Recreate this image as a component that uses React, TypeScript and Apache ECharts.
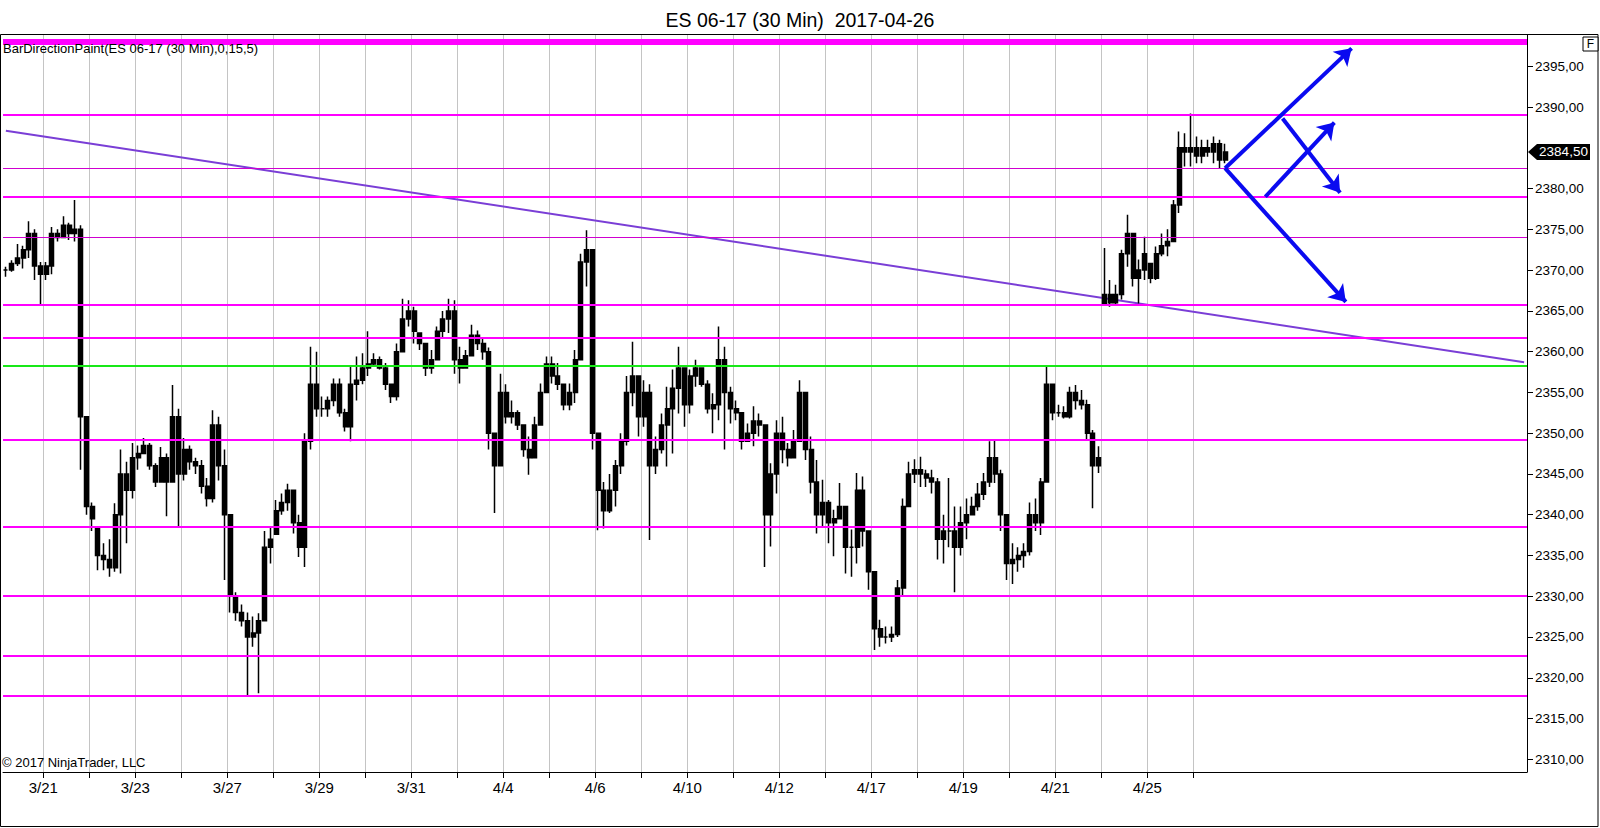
import React, { useEffect, useRef } from 'react';
import * as echarts from 'echarts';

// ---- session days (each day start gets a vertical grid line / tick) ----
const sessionDays = ['3/21', '3/22', '3/23', '3/24', '3/27', '3/28', '3/29', '3/30', '3/31', '4/3', '4/4', '4/5', '4/6', '4/7', '4/10', '4/11', '4/12', '4/13', '4/17', '4/18', '4/19', '4/20', '4/21', '4/24', '4/25', '4/26'];
const leadSlots = 7; // bars of the 3/20 session before the 3/21 gridline
const slotsPerDay = 8;
const totalSlots = 265; // includes empty space to the right

// ---- price bars (low / high / close) ----
const lows = [
  2369.2, 2369.8, 2370.5, 2370.2, 2371.5, 2368.8, 2365.7, 2368.8, 2369.5, 2373.5,
  2374.0, 2373.7, 2373.5, 2345.5, 2340.0, 2338.0, 2333.2, 2333.2, 2332.4, 2333.0,
  2332.8, 2336.5, 2342.0, 2345.5, 2347.5, 2345.5, 2343.4, 2344.0, 2339.8, 2344.0,
  2338.5, 2344.2, 2345.5, 2345.0, 2342.6, 2341.0, 2341.5, 2344.2, 2332.0, 2328.0,
  2327.0, 2326.3, 2317.9, 2323.8, 2318.1, 2327.0, 2334.0, 2337.6, 2340.0, 2340.5,
  2337.7, 2334.8, 2333.6, 2348.0, 2352.0, 2352.0, 2352.0, 2353.3, 2352.0, 2350.2,
  2349.0, 2354.0, 2356.0, 2357.0, 2358.2, 2357.8, 2355.3, 2353.7, 2354.0, 2360.0,
  2363.1, 2361.0, 2360.2, 2357.0, 2357.3, 2359.0, 2361.8, 2362.3, 2357.3, 2356.1,
  2358.0, 2359.4, 2360.2, 2359.0, 2348.0, 2340.2, 2345.9, 2351.2, 2351.2, 2350.4,
  2347.1, 2344.9, 2347.0, 2351.0, 2355.0, 2356.1, 2355.3, 2352.8, 2352.8, 2353.7,
  2359.0, 2368.0, 2348.0, 2338.1, 2338.3, 2340.2, 2341.0, 2345.0, 2348.5, 2353.3,
  2349.6, 2350.8, 2336.9, 2345.0, 2347.5, 2345.9, 2347.5, 2352.4, 2350.8, 2352.4,
  2355.7, 2355.7, 2352.4, 2350.0, 2351.6, 2348.0, 2351.2, 2351.6, 2348.0, 2349.0,
  2348.4, 2349.6, 2333.6, 2336.1, 2342.6, 2346.3, 2345.9, 2347.0, 2349.0, 2346.7,
  2342.6, 2337.7, 2338.5, 2336.5, 2334.9, 2339.5, 2332.8, 2332.4, 2334.0, 2336.1,
  2330.8, 2323.4, 2323.8, 2324.2, 2324.4, 2325.0, 2330.0, 2341.0, 2343.9, 2343.4,
  2343.4, 2342.6, 2334.5, 2334.0, 2336.0, 2330.5, 2335.0, 2337.0, 2340.0, 2340.5,
  2341.8, 2343.4, 2343.9, 2338.0, 2332.0, 2331.5, 2333.0, 2333.5, 2335.0, 2338.0,
  2337.5, 2344.0, 2351.6, 2352.0, 2351.8, 2351.8, 2352.9, 2352.9, 2349.2, 2340.8,
  2345.1, 2365.7, 2365.5, 2365.7, 2366.4, 2370.4, 2368.0, 2365.9, 2368.8, 2368.4,
  2368.8, 2371.7, 2371.7, 2373.5, 2377.0, 2382.7, 2382.7, 2383.1, 2383.1, 2383.9,
  2383.1, 2382.5, 2383.1,
];
const highs = [
  2370.4, 2371.2, 2373.2, 2373.0, 2376.0, 2375.0, 2371.0, 2371.0, 2375.3, 2375.0,
  2376.6, 2375.8, 2378.6, 2375.5, 2352.0, 2341.5, 2338.5, 2336.5, 2337.0, 2341.4,
  2348.0, 2346.5, 2348.8, 2348.5, 2349.4, 2348.8, 2346.3, 2348.3, 2347.5, 2355.9,
  2353.0, 2349.4, 2348.5, 2347.0, 2346.7, 2344.5, 2352.8, 2352.0, 2348.0, 2340.0,
  2330.5, 2329.0, 2328.0, 2327.5, 2327.9, 2338.0, 2338.5, 2341.8, 2342.6, 2343.8,
  2343.0, 2340.0, 2350.0, 2360.6, 2360.0, 2354.5, 2354.5, 2356.7, 2356.7, 2353.0,
  2358.2, 2359.4, 2359.8, 2362.5, 2359.8, 2359.4, 2358.6, 2356.1, 2361.0, 2366.5,
  2366.3, 2365.5, 2362.3, 2361.0, 2360.2, 2363.1, 2365.0, 2366.5, 2366.3, 2360.6,
  2360.2, 2363.3, 2362.6, 2361.6, 2360.5, 2350.0, 2357.3, 2356.0, 2354.0, 2352.8,
  2351.0, 2349.6, 2352.0, 2356.1, 2359.4, 2359.4, 2358.6, 2356.1, 2356.1, 2360.2,
  2372.0, 2374.9, 2372.5, 2350.0, 2344.0, 2345.0, 2346.7, 2350.0, 2357.0, 2361.2,
  2357.0, 2356.5, 2356.0, 2349.6, 2352.4, 2355.7, 2357.8, 2360.6, 2358.0, 2357.8,
  2359.0, 2358.0, 2356.5, 2354.9, 2363.1, 2360.6, 2355.7, 2354.0, 2352.5, 2351.2,
  2353.3, 2352.4, 2351.0, 2346.3, 2351.6, 2352.0, 2348.8, 2350.4, 2356.5, 2355.0,
  2349.6, 2346.7, 2344.3, 2341.8, 2340.6, 2343.9, 2341.0, 2338.2, 2345.1, 2344.7,
  2338.0, 2333.0, 2327.1, 2326.3, 2326.3, 2332.0, 2342.0, 2346.5, 2346.8, 2347.1,
  2345.5, 2345.5, 2344.5, 2340.0, 2344.5, 2341.0, 2341.0, 2342.0, 2342.2, 2343.9,
  2345.1, 2349.0, 2349.2, 2345.5, 2340.0, 2336.5, 2336.0, 2336.5, 2341.5, 2342.0,
  2344.5, 2358.2, 2356.1, 2353.5, 2353.3, 2355.7, 2355.9, 2355.3, 2354.1, 2350.4,
  2348.4, 2372.7, 2368.8, 2368.2, 2372.5, 2376.8, 2374.5, 2371.3, 2374.1, 2370.8,
  2372.9, 2374.5, 2375.0, 2378.6, 2387.0, 2386.8, 2389.2, 2386.4, 2386.0, 2386.0,
  2386.4, 2386.0, 2385.5,
];
const closes = [
  2370.0, 2370.8, 2371.5, 2372.5, 2374.5, 2370.5, 2369.5, 2370.5, 2374.5, 2374.0,
  2375.5, 2374.5, 2375.0, 2352.0, 2341.0, 2339.5, 2335.0, 2334.5, 2333.5, 2340.0,
  2345.0, 2343.0, 2347.0, 2347.5, 2348.5, 2346.0, 2344.0, 2347.0, 2344.0, 2352.0,
  2345.0, 2348.0, 2346.5, 2346.0, 2343.5, 2342.0, 2351.0, 2346.0, 2340.0, 2330.0,
  2328.0, 2327.0, 2325.0, 2325.5, 2327.0, 2336.0, 2337.0, 2340.5, 2341.5, 2343.0,
  2339.0, 2336.0, 2349.0, 2356.0, 2353.0, 2353.0, 2354.0, 2356.0, 2352.5, 2350.8,
  2356.0, 2356.5, 2358.0, 2358.5, 2359.0, 2358.0, 2356.0, 2354.5, 2360.0, 2364.0,
  2365.0, 2362.5, 2361.0, 2358.0, 2359.0, 2362.5, 2364.0, 2365.0, 2359.0, 2358.0,
  2359.5, 2362.0, 2361.0, 2360.0, 2350.0, 2346.0, 2355.0, 2352.0, 2352.5, 2351.0,
  2348.0, 2347.0, 2351.0, 2355.0, 2358.5, 2357.0, 2356.0, 2353.5, 2355.0, 2359.0,
  2371.0, 2372.5, 2350.0, 2343.0, 2340.5, 2343.0, 2346.0, 2349.0, 2355.0, 2357.0,
  2352.0, 2355.0, 2346.0, 2348.0, 2351.0, 2353.0, 2355.5, 2358.0, 2353.5, 2357.0,
  2358.0, 2356.0, 2353.0, 2353.5, 2359.0, 2355.0, 2353.0, 2352.5, 2349.0, 2350.0,
  2351.5, 2351.0, 2340.0, 2345.0, 2350.0, 2348.0, 2347.0, 2349.0, 2355.0, 2348.0,
  2344.0, 2340.0, 2341.5, 2339.0, 2339.5, 2341.0, 2336.0, 2336.0, 2343.0, 2338.0,
  2333.0, 2326.0, 2325.0, 2325.0, 2325.3, 2331.0, 2341.0, 2345.0, 2345.5, 2345.0,
  2344.5, 2344.0, 2337.0, 2338.0, 2338.0, 2336.0, 2339.0, 2340.0, 2341.0, 2342.5,
  2344.0, 2347.0, 2345.0, 2340.0, 2334.0, 2334.5, 2335.0, 2335.5, 2340.0, 2339.0,
  2344.0, 2356.0, 2352.5, 2352.5, 2352.0, 2355.0, 2354.0, 2353.5, 2350.0, 2346.0,
  2347.0, 2367.0, 2366.0, 2367.0, 2372.0, 2374.5, 2369.0, 2370.0, 2372.0, 2369.0,
  2372.0, 2373.0, 2373.5, 2378.0, 2385.0, 2384.5, 2385.0, 2384.0, 2385.0, 2384.5,
  2385.5, 2383.5, 2384.5,
];

// ---- price axis (2385 is hidden behind the last-price tag in the reference) ----
const yTicks = [2310, 2315, 2320, 2325, 2330, 2335, 2340, 2345, 2350, 2355, 2360, 2365, 2370, 2375, 2380, 2390, 2395];
const yMin = 2308.44;
const yMax = 2398.84;

// ---- drawn horizontal levels ----
const magentaLevels = [2398, 2389, 2382.5, 2379, 2374, 2365.75, 2361.75, 2349.25, 2338.5, 2330, 2322.75, 2317.75];
const magentaWidths = [6, 2, 1, 2, 1, 2, 2, 2, 2, 2, 2, 2];
const greenLevel = 2358.25;

// ---- trend line (bar index, price) ----
const trendLine = [[0, 2387.1], [264, 2358.7]];

// ---- projection arrows (bar index, price) ----
const arrowLines = [
  [[212, 2382.5], [234, 2397.2]],
  [[212, 2382.5], [233, 2366.1]],
  [[222, 2388.6], [232, 2379.5]],
  [[219, 2379.0], [231, 2388.1]],
];

const FONT = "'Liberation Sans', Arial, sans-serif";

function buildCategories(): string[] {
  const cats: string[] = [];
  for (let i = 0; i < totalSlots; i++) {
    const d = Math.floor((i - leadSlots) / slotsPerDay);
    cats.push(d < 0 ? '3/20' : d < sessionDays.length ? sessionDays[d] : '');
  }
  return cats;
}

function buildBars(): number[][] {
  return closes.map((c, i) => {
    const prev = i === 0 ? c : closes[i - 1];
    const open = Math.min(highs[i], Math.max(lows[i], prev));
    return [open, c, lows[i], highs[i]];
  });
}

export default function App() {
  const ref = useRef<HTMLDivElement>(null);

  useEffect(() => {
    if (!ref.current) return;
    const chart = echarts.init(ref.current, null, { renderer: 'svg' });
    const categories = buildCategories();
    const bars = buildBars();
    const fmt = (v: number) => v.toFixed(2).replace('.', ',');

    const option: any = {
      animation: false,
      backgroundColor: '#ffffff',
      title: {
        text: 'ES 06-17 (30 Min)  2017-04-26',
        left: 'center',
        top: 5,
        textStyle: { fontSize: 19.5, fontWeight: 'normal', color: '#000', fontFamily: FONT },
      },
      grid: [
        { left: 3, right: 73, top: 35, bottom: 56, containLabel: false },
        { left: 43.26, width: 1150, top: 35, bottom: 56, containLabel: false },
      ],
      xAxis: [
        {
          type: 'category',
          gridIndex: 0,
          data: categories,
          boundaryGap: true,
          axisLine: { show: true, lineStyle: { color: '#000', width: 1 } },
          axisTick: { show: false },
          axisLabel: { show: false },
          splitLine: { show: false },
        },
        {
          type: 'value',
          gridIndex: 1,
          min: 0,
          max: sessionDays.length - 1,
          interval: 1,
          position: 'bottom',
          axisLine: { show: false },
          axisTick: { show: true, length: 6, lineStyle: { color: '#000', width: 1 } },
          axisLabel: {
            show: true,
            margin: 8,
            fontSize: 15,
            color: '#000',
            fontFamily: FONT,
            formatter: (v: number) => (v % 2 === 0 && v < sessionDays.length - 1 ? sessionDays[v] : ''),
          },
          splitLine: { show: true, lineStyle: { color: '#c4c4c4', width: 1 } },
        },
      ],
      yAxis: [
        {
          type: 'value',
          gridIndex: 0,
          position: 'right',
          min: yMin,
          max: yMax,
          axisLine: { show: true, lineStyle: { color: '#000', width: 1 } },
          axisTick: { show: true, length: 6, customValues: yTicks, lineStyle: { color: '#000' } },
          axisLabel: {
            show: true,
            margin: 8,
            fontSize: 13.5,
            color: '#000',
            fontFamily: FONT,
            customValues: yTicks,
            formatter: (v: number) => fmt(v),
          },
          splitLine: { show: false },
        },
        { type: 'value', gridIndex: 1, min: 0, max: 1, show: false },
      ],
      series: [
        {
          type: 'line',
          xAxisIndex: 1,
          yAxisIndex: 1,
          data: [],
          silent: true,
        },
        {
          name: 'levels',
          type: 'line',
          xAxisIndex: 0,
          yAxisIndex: 0,
          data: [],
          silent: true,
          z: 2,
          markLine: {
            silent: true,
            symbol: ['none', 'none'],
            label: { show: false },
            data: [
              ...magentaLevels.map((v, i) => ({
                yAxis: v,
                lineStyle: { color: magentaWidths[i] === 1 ? '#d000d0' : '#ff00ff', width: magentaWidths[i], type: 'solid' },
              })),
              { yAxis: greenLevel, lineStyle: { color: '#18e818', width: 2, type: 'solid' } },
            ],
          },
        },
        {
          name: 'trend',
          type: 'line',
          xAxisIndex: 0,
          yAxisIndex: 0,
          data: trendLine,
          symbol: 'none',
          silent: true,
          z: 3,
          lineStyle: { color: '#7a3ed6', width: 2 },
        },
        {
          name: 'ES 06-17',
          type: 'candlestick',
          xAxisIndex: 0,
          yAxisIndex: 0,
          data: bars,
          barWidth: 4.5,
          z: 4,
          itemStyle: {
            color: '#000',
            color0: '#000',
            borderColor: '#000',
            borderColor0: '#000',
            borderWidth: 1.5,
          },
        },
        {
          name: 'arrows',
          type: 'line',
          xAxisIndex: 0,
          yAxisIndex: 0,
          data: [],
          silent: true,
          z: 6,
          markLine: {
            silent: true,
            symbol: ['none', 'arrow'],
            symbolSize: 16,
            label: { show: false },
            lineStyle: { color: '#0a0af0', width: 4, type: 'solid' },
            data: arrowLines.map((seg) => [{ coord: seg[0] }, { coord: seg[1] }]),
          },
        },
      ],
    };
    chart.setOption(option);

    const lastClose = closes[closes.length - 1];
    const ty = chart.convertToPixel({ yAxisIndex: 0 }, lastClose) as number;

    chart.setOption({
      graphic: [
        {
          type: 'rect',
          shape: { x: 0.5, y: 34.5, width: 1597.5, height: 792 },
          style: { fill: 'none', stroke: '#000', lineWidth: 1 },
          silent: true,
          z: 10,
        },
        {
          type: 'rect',
          shape: { x: 1583, y: 37, width: 15, height: 14 },
          style: { fill: '#fff', stroke: '#000', lineWidth: 1 },
          silent: true,
          z: 10,
        },
        {
          type: 'text',
          x: 1590.5,
          y: 44,
          style: { text: 'F', fill: '#000', font: `12px ${FONT}`, textAlign: 'center', textVerticalAlign: 'middle' },
          silent: true,
          z: 11,
        },
        {
          type: 'text',
          x: 3,
          y: 48,
          style: { text: 'BarDirectionPaint(ES 06-17 (30 Min),0,15,5)', fill: '#000', font: `13px ${FONT}`, textAlign: 'left', textVerticalAlign: 'middle' },
          silent: true,
          z: 11,
        },
        {
          type: 'text',
          x: 2,
          y: 762,
          style: { text: '© 2017 NinjaTrader, LLC', fill: '#000', font: `13px ${FONT}`, textAlign: 'left', textVerticalAlign: 'middle' },
          silent: true,
          z: 11,
        },
        {
          type: 'polygon',
          shape: { points: [[1528, ty], [1537, ty - 8], [1590, ty - 8], [1590, ty + 8], [1537, ty + 8]] },
          style: { fill: '#000' },
          silent: true,
          z: 12,
        },
        {
          type: 'text',
          x: 1563.5,
          y: ty,
          style: { text: fmt(lastClose), fill: '#fff', font: `13.5px ${FONT}`, textAlign: 'center', textVerticalAlign: 'middle' },
          silent: true,
          z: 13,
        },
      ],
    });

    return () => chart.dispose();
  }, []);

  return (
    <div
      ref={ref}
      style={{ position: 'absolute', left: 0, top: 0, width: 1600, height: 828, background: '#fff' }}
    />
  );
}
